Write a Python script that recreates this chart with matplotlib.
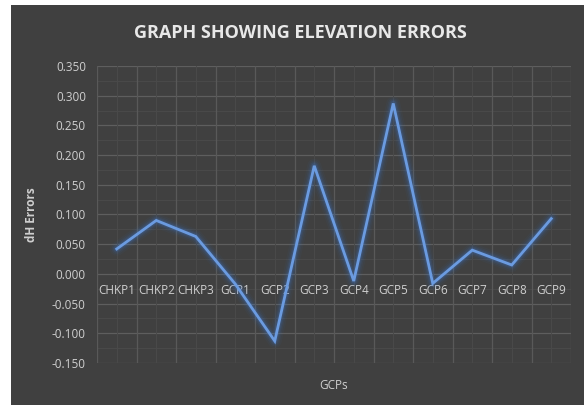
import matplotlib
matplotlib.use("Agg")
import matplotlib.pyplot as plt
from matplotlib.patches import Rectangle
from matplotlib.ticker import FixedLocator, FormatStrFormatter
import numpy as np

categories = ["CHKP1", "CHKP2", "CHKP3", "GCP1", "GCP2", "GCP3",
              "GCP4", "GCP5", "GCP6", "GCP7", "GCP8", "GCP9"]
dh_errors = [0.042, 0.090, 0.063, -0.017, -0.113, 0.182,
             -0.012, 0.287, -0.016, 0.040, 0.015, 0.093]
y_ticks = [-0.15, -0.10, -0.05, 0.00, 0.05, 0.10, 0.15, 0.20, 0.25, 0.30, 0.35]

plt.rcParams['font.family'] = ['Open Sans', 'DejaVu Sans']

bg = '#404040'
txt = '#cfcfcf'
fig = plt.figure(figsize=(5.84, 4.05), dpi=100, facecolor='white')
fig.patches.append(Rectangle((11/584, 0), 1 - 11/584, 1 - 5/405,
                             transform=fig.transFigure, facecolor=bg,
                             edgecolor='none', zorder=-10))
ax = fig.add_axes([97/584, 1 - 363/405, (571 - 97)/584, (363 - 66)/405])
ax.set_facecolor(bg)

x = np.arange(len(categories))
# glow
for lw, a in [(10, 0.05), (7.5, 0.08), (5.5, 0.12), (3.8, 0.2)]:
    ax.plot(x, dh_errors, color='#3d74c4', lw=lw, alpha=a,
            solid_joinstyle='round', solid_capstyle='round', zorder=3)
ax.plot(x, dh_errors, color='#6b9be0', lw=2.0, solid_joinstyle='miter', zorder=4)

ax.set_xlim(-0.5, len(categories) - 0.5)
ax.set_ylim(-0.15, 0.35)
ax.yaxis.set_major_locator(FixedLocator(y_ticks))
ax.yaxis.set_major_formatter(FormatStrFormatter('%.3f'))
ax.set_xticks(x)
ax.set_xticklabels(categories)

# grid
for v in y_ticks:
    ax.axhline(v, color='#5e5e5e', lw=0.9, zorder=1)
for v in np.array(y_ticks[:-1]) + 0.025:
    ax.axhline(v, color='#4a4a4a', lw=0.7, zorder=1)
for v in np.arange(-0.5, len(categories), 1.0):
    ax.axvline(v, color='#595959', lw=0.9, zorder=1)
for v in x:
    ax.axvline(v, color='#4a4a4a', lw=0.7, zorder=1)

for s in ax.spines.values():
    s.set_visible(False)
ax.spines['bottom'].set_position(('data', 0))
ax.tick_params(axis='both', which='both', length=0, colors=txt, labelsize=8.5)
ax.tick_params(axis='x', pad=7)
ax.tick_params(axis='y', pad=8)

ax.set_xlabel('GCPs', color=txt, fontsize=8.5)
ax.xaxis.set_label_coords(0.5, -0.055)
ax.set_ylabel('dH Errors', color=txt, fontsize=8.5, fontweight='bold')
ax.yaxis.set_label_coords(-0.125, 0.5)

fig.text(300/584, 1 - 33/405, 'GRAPH SHOWING ELEVATION ERRORS', color='#e8e8e8',
         fontsize=13, fontweight='bold', ha='center', va='center')

fig.savefig('out.png', dpi=100, facecolor='white')
